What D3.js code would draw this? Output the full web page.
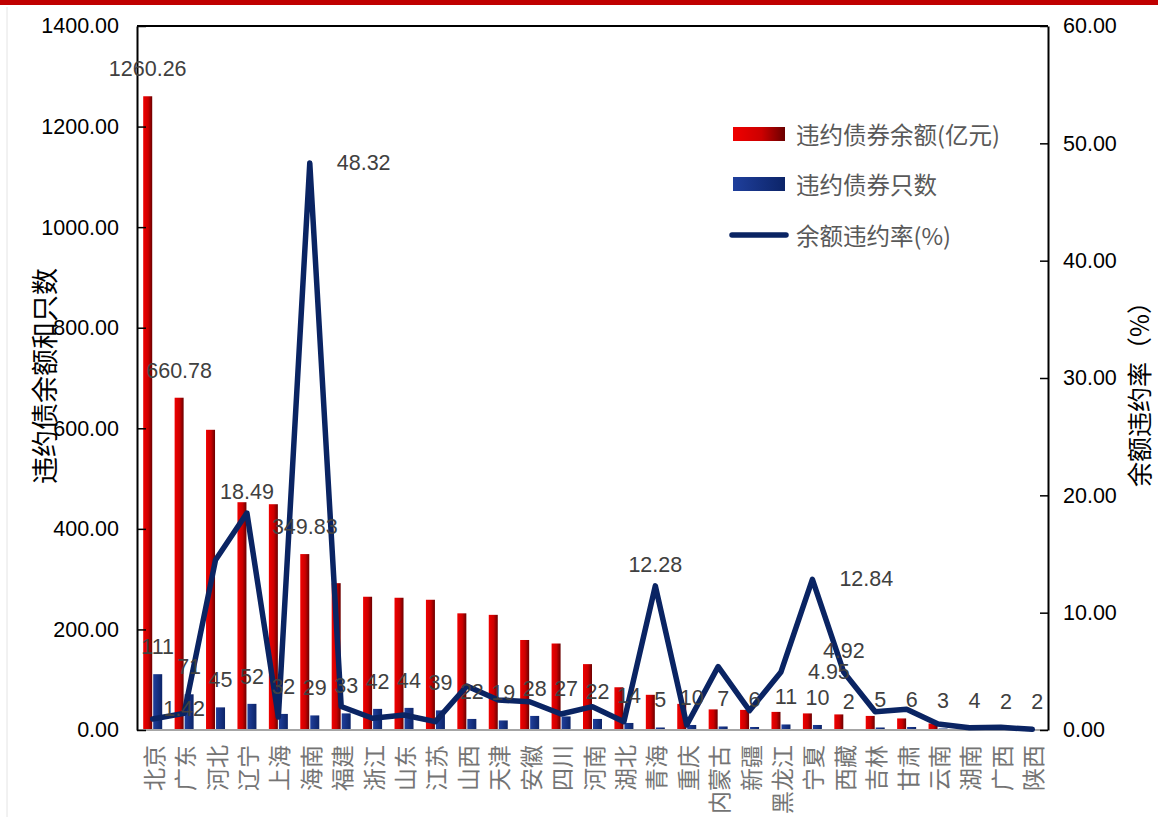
<!DOCTYPE html>
<html>
<head>
<meta charset="utf-8">
<script src="https://cdn.jsdelivr.net/npm/d3@7"></script>
<style>
  body { margin: 0; background: #fff; }
  svg { display: block; font-family: "Liberation Sans", Arial, sans-serif; }
  .cjk { font-family: "Noto Sans CJK SC", sans-serif; }
</style>
</head>
<body>
<svg id="chart" width="1158" height="817"></svg>
<script>
// provinces
const provinces = ['北京','广东','河北','辽宁','上海','海南','福建','浙江','山东','江苏','山西','天津','安徽','四川','河南','湖北','青海','重庆','内蒙古','新疆','黑龙江','宁夏','西藏','吉林','甘肃','云南','湖南','广西','陕西'];
// 违约债券余额(亿元)
const amounts = [1260.26, 660.78, 597, 453, 449, 349.83, 292, 265, 263, 259, 232, 229, 179, 172, 131, 85, 70, 52, 41, 40, 36, 33, 31, 28, 23, 13, 10, 1.5, 1];
// 违约债券只数
const counts = [111, 71, 45, 52, 32, 29, 33, 42, 44, 39, 22, 19, 28, 27, 22, 14, 5, 10, 7, 6, 11, 10, 2, 5, 6, 3, 4, 2, 2];
// 余额违约率(%)
const rates = [0.94, 1.42, 14.49, 18.49, 1.1, 48.32, 2.0, 1.0, 1.28, 0.71, 3.75, 2.56, 2.41, 1.36, 1.99, 0.71, 12.28, 0.43, 5.4, 1.65, 4.95, 12.84, 4.92, 1.56, 1.76, 0.51, 0.2, 0.23, 0.06];
const leftTicks = [0, 200, 400, 600, 800, 1000, 1200, 1400];
const rightTicks = [0, 10, 20, 30, 40, 50, 60];
const seriesNames = ['违约债券余额(亿元)', '违约债券只数', '余额违约率(%)'];

// which amount labels are shown, and where the rate labels go
const amountLabelShown = ['北京', '广东', '海南'];
const rateLabelPos = { '广东': 'center', '辽宁': 'above', '海南': 'right', '青海': 'above', '宁夏': 'right', '黑龙江': 'right', '西藏': 'above' };

const data = provinces.map((p, i) => ({ p, amt: amounts[i], cnt: counts[i], rate: rates[i] }));

const plotL = 137, plotR = 1048, plotT = 26, plotB = 730;
const svg = d3.select('#chart');

const defs = svg.append('defs');
const redGrad = defs.append('linearGradient').attr('id', 'redGrad').attr('x1', 0).attr('x2', 1).attr('y1', 0).attr('y2', 0);
redGrad.append('stop').attr('offset', '0%').attr('stop-color', '#f00000');
redGrad.append('stop').attr('offset', '55%').attr('stop-color', '#cc0000');
redGrad.append('stop').attr('offset', '100%').attr('stop-color', '#6a0000');
const blueGrad = defs.append('linearGradient').attr('id', 'blueGrad').attr('x1', 0).attr('x2', 1).attr('y1', 0).attr('y2', 0);
blueGrad.append('stop').attr('offset', '0%').attr('stop-color', '#1f3f9c');
blueGrad.append('stop').attr('offset', '100%').attr('stop-color', '#0c2468');

// top red band + faint frame line
svg.append('rect').attr('x', 0).attr('y', 0).attr('width', 1158).attr('height', 5).attr('fill', '#c00000');
svg.append('line').attr('x1', 7).attr('x2', 7).attr('y1', 7).attr('y2', 817).attr('stroke', '#e4e4e4').attr('stroke-width', 1);

const x = d3.scaleBand().domain(provinces).range([plotL, plotR]);
const yL = d3.scaleLinear().domain([0, 1400]).range([plotB, plotT]);
const yR = d3.scaleLinear().domain([0, 60]).range([plotB, plotT]);
const bw = 9;
const cx = d => x(d.p) + x.bandwidth() / 2;

// bars
svg.append('g').selectAll('rect').data(data).join('rect')
  .attr('x', d => cx(d) - bw - 0.5)
  .attr('y', d => yL(d.amt))
  .attr('width', bw)
  .attr('height', d => plotB - yL(d.amt))
  .attr('fill', 'url(#redGrad)');

svg.append('g').selectAll('rect').data(data).join('rect')
  .attr('x', d => cx(d) + 0.5)
  .attr('y', d => yL(d.cnt))
  .attr('width', bw)
  .attr('height', d => plotB - yL(d.cnt))
  .attr('fill', 'url(#blueGrad)');

// bottom axis line
svg.append('line').attr('x1', plotL).attr('x2', plotR).attr('y1', plotB).attr('y2', plotB)
  .attr('stroke', '#a6a6a6').attr('stroke-width', 2);

// frame top
svg.append('line').attr('x1', plotL).attr('x2', plotR).attr('y1', plotT).attr('y2', plotT)
  .attr('stroke', '#000').attr('stroke-width', 2);

// axes
const axL = svg.append('g').attr('transform', `translate(${plotL},0)`)
  .call(d3.axisLeft(yL).tickValues(leftTicks).tickFormat(d3.format('.2f')).tickSizeInner(-9).tickSizeOuter(0).tickPadding(18));
const axR = svg.append('g').attr('transform', `translate(${plotR},0)`)
  .call(d3.axisRight(yR).tickValues(rightTicks).tickFormat(d3.format('.2f')).tickSizeInner(-8).tickSizeOuter(0).tickPadding(15));
[axL, axR].forEach(ax => {
  ax.select('.domain').attr('stroke', '#000').attr('stroke-width', 2);
  ax.selectAll('.tick line').attr('stroke', '#000').attr('stroke-width', 1.5);
  ax.selectAll('.tick text').attr('font-size', 21.5).attr('fill', '#000')
    .attr('font-family', '"Liberation Sans", Arial, sans-serif');
});

// line
const line = d3.line().x(d => cx(d)).y(d => yR(d.rate));
svg.append('path').datum(data).attr('d', line)
  .attr('fill', 'none').attr('stroke', '#0a2463').attr('stroke-width', 5.5)
  .attr('stroke-linejoin', 'round').attr('stroke-linecap', 'round');

// category labels
svg.append('g').selectAll('text').data(data).join('text')
  .attr('class', 'cjk')
  .attr('transform', d => `translate(${cx(d)},745) rotate(-90)`)
  .attr('text-anchor', 'end').attr('dominant-baseline', 'central')
  .attr('font-size', 23).attr('fill', '#747474')
  .text(d => d.p);

// data labels
const lab = svg.append('g').attr('font-size', 21.5).attr('fill', '#404040');
lab.selectAll('.amt').data(data.filter(d => amountLabelShown.includes(d.p))).join('text')
  .attr('class', 'amt')
  .attr('x', d => cx(d) - bw / 2 - 0.5)
  .attr('y', d => yL(d.amt) - 27)
  .attr('text-anchor', 'middle').attr('dominant-baseline', 'central')
  .text(d => d3.format('.2f')(d.amt));
lab.selectAll('.cnt').data(data).join('text')
  .attr('class', 'cnt')
  .attr('x', d => cx(d) + bw / 2 + 0.5)
  .attr('y', d => yL(d.cnt) - 27)
  .attr('text-anchor', 'middle').attr('dominant-baseline', 'central')
  .text(d => d.cnt);
lab.selectAll('.rate').data(data.filter(d => rateLabelPos[d.p])).join('text')
  .attr('class', 'rate')
  .attr('x', d => rateLabelPos[d.p] === 'right' ? cx(d) + 27 : cx(d))
  .attr('y', d => rateLabelPos[d.p] === 'above' ? yR(d.rate) - 21 : (rateLabelPos[d.p] === 'center' ? yR(d.rate) - 4 : yR(d.rate)))
  .attr('text-anchor', d => rateLabelPos[d.p] === 'right' ? 'start' : 'middle')
  .attr('dominant-baseline', 'central')
  .text(d => d3.format('.2f')(d.rate));

// axis titles
svg.append('text').attr('class', 'cjk')
  .attr('transform', 'translate(43,376) rotate(-90)')
  .attr('text-anchor', 'middle').attr('dominant-baseline', 'central')
  .attr('font-size', 27).attr('fill', '#000')
  .text('违约债余额和只数');
svg.append('text').attr('class', 'cjk')
  .attr('transform', 'translate(1138,388) rotate(-90)')
  .attr('text-anchor', 'middle').attr('dominant-baseline', 'central')
  .attr('font-size', 25).attr('fill', '#000')
  .text('余额违约率（%）');

// legend
const lg = svg.append('g').attr('class', 'cjk');
const legY = [134, 184, 235];
lg.append('rect').attr('x', 733).attr('y', legY[0] - 7).attr('width', 52).attr('height', 14).attr('fill', 'url(#redGrad)');
lg.append('rect').attr('x', 733).attr('y', legY[1] - 7).attr('width', 52).attr('height', 14).attr('fill', 'url(#blueGrad)');
lg.append('line').attr('x1', 732).attr('x2', 786).attr('y1', legY[2]).attr('y2', legY[2])
  .attr('stroke', '#0a2463').attr('stroke-width', 5.5).attr('stroke-linecap', 'round');
lg.selectAll('text').data(seriesNames).join('text')
  .attr('x', 796).attr('y', (d, i) => legY[i])
  .attr('dominant-baseline', 'central')
  .attr('font-size', 23.5).attr('fill', '#595959')
  .text(d => d);
</script>
</body>
</html>
